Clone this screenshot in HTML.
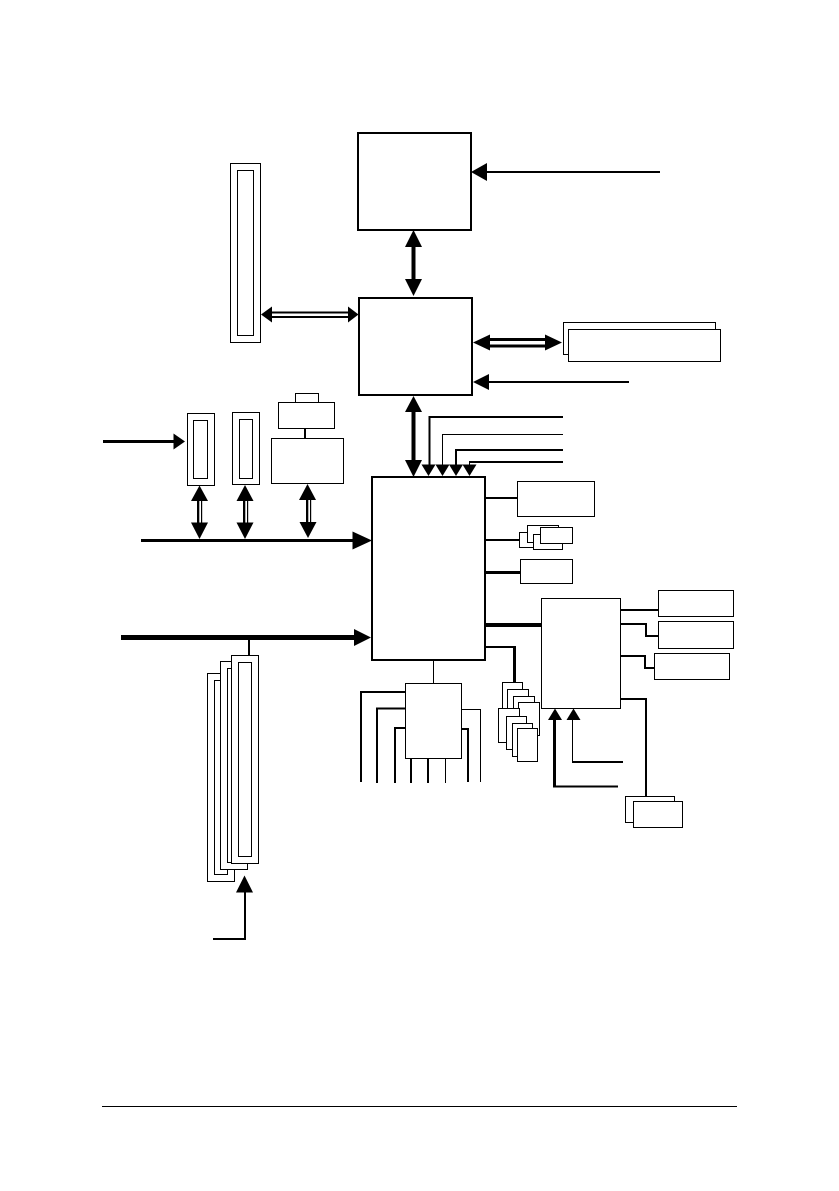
<!DOCTYPE html>
<html>
<head>
<meta charset="utf-8">
<title>Block diagram</title>
<style>
html,body{margin:0;padding:0;background:#fff;width:839px;height:1191px;overflow:hidden}
svg{display:block}
.t{fill:#fff;stroke:#000;stroke-width:1}
.b{fill:#fff;stroke:#000;stroke-width:2}
.l{fill:none;stroke:#000;stroke-width:2}
.n{fill:none;stroke:#000;stroke-width:1}
.k{fill:none;stroke:#000;stroke-width:3}
polygon{fill:#000}
</style>
</head>
<body>
<svg width="839" height="1191" viewBox="0 0 839 1191" xmlns="http://www.w3.org/2000/svg">
<rect width="839" height="1191" fill="#fff"/>

<!-- main boxes -->
<rect class="b" x="358" y="133" width="113" height="97"/>
<rect class="b" x="359" y="298" width="113" height="97"/>
<rect class="b" x="372" y="477" width="113" height="183"/>

<!-- memory slot -->
<rect class="t" x="230.5" y="163.5" width="30" height="179"/>
<rect class="t" x="237.5" y="170.5" width="16" height="165"/>

<!-- top arrow -->
<path class="l" d="M660 172H485"/>
<polygon points="471,172 487,163 487,181"/>

<!-- box1-box2 -->
<path d="M413.5 245V281" stroke="#000" stroke-width="4" fill="none"/>
<polygon points="413.5,230 422,247 405,247"/>
<polygon points="413.5,296 422,279 405,279"/>

<!-- memory double arrow -->
<path class="l" d="M270 312.5H350M270 317H350"/>
<polygon points="261,314.5 272,306.5 272,322.5"/>
<polygon points="358.5,314.5 348,306.5 348,322.5"/>

<!-- AGP double arrow -->
<rect x="488" y="338" width="58" height="3" fill="#000"/>
<rect x="488" y="344.5" width="58" height="3" fill="#000"/>
<polygon points="473,342.5 490,334.5 490,350.5"/>
<polygon points="562,342.5 545,334.5 545,350.5"/>
<rect class="t" x="563.5" y="322.5" width="152" height="32"/>
<rect class="t" x="568.5" y="329.5" width="152" height="32"/>

<!-- clock arrow -->
<path class="l" d="M629 382H487"/>
<polygon points="473,382 489,374 489,390"/>

<!-- box2-box3 -->
<path d="M413.5 410V462" stroke="#000" stroke-width="4" fill="none"/>
<polygon points="413.5,396 422,412 405,412"/>
<polygon points="413.5,477 422,460 405,460"/>

<!-- four signal lines -->
<path class="l" d="M563 417H429.5V466"/>
<path class="n" d="M563 434.5H442.5V466"/>
<path class="l" d="M563 450H456V466"/>
<path class="l" d="M563 462H469"/>
<path class="n" d="M469.5 462V468"/>
<polygon points="428.5,476 435.5,464.5 421.5,464.5"/>
<polygon points="442.5,476 449.5,464.5 435.5,464.5"/>
<polygon points="456,476 463,464.5 449,464.5"/>
<polygon points="469.5,476 476.5,464.5 462.5,464.5"/>

<!-- PCI slots -->
<rect class="t" x="187.5" y="413.5" width="27" height="72"/>
<rect class="t" x="193.5" y="420.5" width="14" height="58"/>
<rect class="t" x="232.5" y="412.5" width="27" height="72"/>
<rect class="t" x="239.5" y="419.5" width="13" height="59"/>
<rect class="t" x="295.5" y="393.5" width="23" height="9"/>
<rect class="t" x="278.5" y="402.5" width="56" height="26"/>
<path class="l" d="M305 429V438"/>
<rect class="t" x="271.5" y="438.5" width="72" height="45"/>

<path d="M103 441.5H175" class="k"/>
<polygon points="185,441.5 173.5,433.5 173.5,449.5"/>

<!-- PCI bus -->
<path class="k" d="M141 540.5H355"/>
<polygon points="372,540.5 352.5,531.5 352.5,549.5"/>

<!-- PCI double arrows -->
<rect x="197" y="500" width="2.3" height="24" fill="#000"/>
<rect x="201" y="500" width="1.2" height="24" fill="#000"/>
<polygon points="199.5,485.5 208,501 191,501"/>
<polygon points="199.5,539 208,522.5 191,522.5"/>
<rect x="243" y="500" width="2.3" height="24" fill="#000"/>
<rect x="247" y="500" width="1.2" height="24" fill="#000"/>
<polygon points="245,485 253.5,501 236.5,501"/>
<polygon points="245,539 253.5,522.5 236.5,522.5"/>
<rect x="306" y="499" width="2.3" height="24" fill="#000"/>
<rect x="310" y="499" width="1.2" height="24" fill="#000"/>
<polygon points="307.5,484 316,500 299,500"/>
<polygon points="308,538 316.5,522 299.5,522"/>

<!-- hub bus -->
<rect x="121" y="635" width="236" height="5" fill="#000"/>
<polygon points="371,637.5 354,629 354,646"/>
<path class="l" d="M249 640V656"/>

<!-- stacked DIMMs -->
<rect class="t" x="207.5" y="673.5" width="27" height="208"/>
<rect class="t" x="214.5" y="680.5" width="13" height="194"/>
<rect class="t" x="220.5" y="661.5" width="27" height="208"/>
<rect class="t" x="227.5" y="668.5" width="13" height="194"/>
<rect class="t" x="231.5" y="655.5" width="27" height="208"/>
<rect class="t" x="238.5" y="662.5" width="13" height="194"/>
<polygon points="244.5,875.5 253,892.5 236,892.5"/>
<path class="l" d="M213 939H245V890"/>

<!-- lower centre chip -->
<path d="M433.5 660V684" fill="none" stroke="#000" stroke-width="1"/>
<path class="l" d="M405 692H361V782"/>
<path class="l" d="M405 708.5H377V783"/>
<path class="l" d="M405 728H395V783"/>
<path class="l" d="M461 729H468V782"/>
<path class="n" d="M461 709.5H480.5V782"/>
<path class="l" d="M411 758V783M428 758V783"/>
<path class="n" d="M445.5 758V783"/>
<rect class="t" x="405.5" y="683.5" width="56" height="75"/>

<!-- SB right connectors -->
<path class="l" d="M486 498H517"/>
<path class="l" d="M486 540H520"/>
<path class="k" d="M486 572.5H520"/>
<rect x="486" y="623" width="55" height="4" fill="#000"/>
<path class="l" d="M486 647H514.5"/>
<path class="k" d="M514.5 646V683"/>

<rect class="t" x="517.5" y="481.5" width="77" height="35"/>
<rect class="t" x="519.5" y="532.5" width="20" height="15"/>
<rect class="t" x="527.5" y="525.5" width="31" height="17"/>
<rect class="t" x="533.5" y="534.5" width="29" height="15"/>
<rect class="t" x="540.5" y="527.5" width="32" height="16"/>
<rect class="t" x="520.5" y="559.5" width="52" height="24"/>

<!-- card stack -->
<rect class="t" x="502.5" y="682.5" width="20" height="34"/>
<rect class="t" x="507.5" y="689.5" width="21" height="34"/>
<rect class="t" x="513.5" y="696.5" width="21" height="34"/>
<rect class="t" x="518.5" y="702.5" width="21" height="33"/>
<rect class="t" x="498.5" y="708.5" width="21" height="34"/>
<rect class="t" x="506.5" y="716.5" width="20" height="33"/>
<rect class="t" x="512.5" y="723.5" width="20" height="33"/>
<rect class="t" x="517.5" y="728.5" width="20" height="33"/>

<!-- super IO -->
<rect class="t" x="541.5" y="598.5" width="79" height="110"/>
<rect class="t" x="658.5" y="590.5" width="75" height="26"/>
<rect class="t" x="658.5" y="621.5" width="75" height="27"/>
<rect class="t" x="654.5" y="653.5" width="75" height="26"/>
<path class="l" d="M621 610H658"/>
<path class="l" d="M621 624H646V636H658"/>
<path class="l" d="M621 656H645V668H654"/>
<path class="l" d="M621 699H646V797"/>
<rect class="t" x="625.5" y="796.5" width="49" height="26"/>
<rect class="t" x="633.5" y="801.5" width="49" height="26"/>

<polygon points="555,708.5 562,720 548,720"/>
<polygon points="573.5,708.5 580.5,720 566.5,720"/>
<path class="k" d="M554.5 718V787"/>
<path class="l" d="M553 786.5H618"/>
<path class="n" d="M572.5 718V762"/>
<path class="l" d="M572 762H623"/>

<!-- footer rule -->
<path class="n" d="M102 1106.5H737"/>
</svg>
</body>
</html>
